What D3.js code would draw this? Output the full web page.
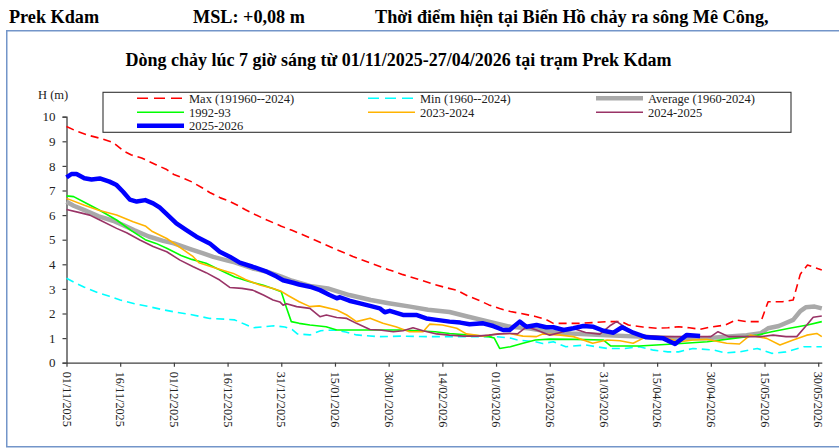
<!DOCTYPE html>
<html>
<head>
<meta charset="utf-8">
<script src="https://cdn.jsdelivr.net/npm/d3@7"></script>
<style>
  html, body { margin: 0; padding: 0; background: #fff; }
  svg { display: block; font-family: "Liberation Serif", "Times New Roman", serif; }
</style>
</head>
<body>
<svg id="chart" width="839" height="448"></svg>
<script>
// ---------- data ----------
const startDate = "01/11/2025";
const endDate = "31/05/2026";
const xTickLabels = ["01/11/2025","16/11/2025","01/12/2025","16/12/2025","31/12/2025","15/01/2026","30/01/2026",
  "14/02/2026","01/03/2026","16/03/2026","31/03/2026","15/04/2026","30/04/2026","15/05/2026","30/05/2026"];
const yTicks = [0,1,2,3,4,5,6,7,8,9,10];

const seriesNames = ["Max (191960--2024)", "Min (1960--2024)", "Average (1960-2024)", "1992-93", "2023-2024", "2024-2025", "2025-2026"];

// day offsets from startDate and water level (m)
const maxDays = [0,3,6,10,13,16,18,21,25,28,30,33,35,38,40,43,45,48,50,53,56,60,63,66,70,75,80,85,90,94,98,103,106,109,112,115,118,121,124,127,131,134,136,140,143,147,151,155,157,161,165,168,171,174,177,180,184,187,190,194,196,200,203,205,207,211];
const maxValues = [9.6,9.4,9.25,9.1,8.95,8.6,8.45,8.32,8.05,7.85,7.65,7.48,7.35,7.1,6.92,6.7,6.6,6.38,6.22,6.0,5.8,5.55,5.38,5.2,4.95,4.62,4.32,4.05,3.78,3.58,3.4,3.17,3.05,2.95,2.72,2.55,2.35,2.2,2.08,2.0,1.88,1.75,1.6,1.6,1.6,1.63,1.67,1.67,1.53,1.45,1.4,1.42,1.46,1.42,1.36,1.45,1.53,1.74,1.67,1.67,2.48,2.48,2.55,3.6,3.97,3.77];

const minDays = [0,3,5,9,12,15,19,23,27,30,35,40,44,47,50,52,55,58,61,63,64.5,68,71,75,78,81,87,94,101,109,115,120,124,126,131,133,136,139.5,145,151,156,160,164,168,171,175,181,184,188,193,197,201,206,211];
const minValues = [3.43,3.2,3.07,2.83,2.7,2.55,2.4,2.28,2.15,2.07,1.95,1.8,1.77,1.74,1.55,1.42,1.46,1.5,1.45,1.35,1.17,1.13,1.3,1.33,1.25,1.13,1.06,1.08,1.06,1.06,1.06,1.06,1.0,0.92,0.85,0.78,0.85,0.65,0.72,0.58,0.58,0.65,0.51,0.44,0.44,0.58,0.51,0.4,0.44,0.58,0.38,0.44,0.65,0.65];

const avgDays = [0,2,5,9,13,16,19,23,27,30,35,38,41,45,47,52,56,60,63,68,73,79,85,90,96,101,107,112,118,124,129,132,135,141,151,160,170,179,184,190,194,196,199,203,205,206.5,209,211];
const avgValues = [6.54,6.38,6.2,5.95,5.77,5.58,5.38,5.13,4.95,4.85,4.6,4.45,4.3,4.15,4.08,3.83,3.7,3.5,3.33,3.12,3.02,2.75,2.55,2.42,2.28,2.15,2.06,1.88,1.67,1.46,1.4,1.33,1.26,1.19,1.12,1.06,0.99,0.99,1.06,1.12,1.2,1.4,1.49,1.74,2.1,2.25,2.28,2.21];

const y1992Days = [0,2,5,9,14,18,22,25,28,32,35,39,42,47,51,55,58,60,61.5,62.8,65,68,72.5,75.5,85,94,103,107,112.6,118,119.5,121,124,127.5,131,135,142,150,152,160,169.5,179,188,193,197,202,207,211];
const y1992Values = [6.78,6.75,6.52,6.22,5.8,5.38,5.0,4.85,4.65,4.36,4.2,4.04,3.83,3.48,3.3,3.15,3.0,2.88,2.21,1.67,1.6,1.53,1.46,1.33,1.33,1.33,1.26,1.19,1.12,1.06,1.0,0.58,0.65,0.79,0.92,0.96,0.95,0.92,0.68,0.68,0.76,0.85,1.02,1.12,1.26,1.4,1.53,1.67];

const y2023Days = [0,5,9,14,18.6,22,24,28,32.6,35.4,37,42,46.6,50,54,57.7,60,62,65,68,70.6,75.5,78.3,81,84.8,88.4,92,95.8,99.6,101.5,105,109,111.7,116.4,120.2,123.8,127.5,131.3,133,138,141.6,147,151,154.6,158.3,162,167.6,171.4,175,178.8,184.4,188,191,195.6,199.3,203,206.8,209.6,211];
const y2023Values = [6.68,6.4,6.2,6.0,5.73,5.56,5.33,5.05,4.6,4.31,4.06,3.83,3.63,3.38,3.16,3.02,2.9,2.72,2.48,2.28,2.31,2.14,1.94,1.67,1.81,1.6,1.46,1.26,1.26,1.57,1.53,1.4,1.17,1.08,1.17,1.19,1.08,1.06,1.17,1.12,1.06,0.79,0.92,0.89,0.79,1.06,0.99,0.85,0.92,0.95,0.79,0.76,1.12,0.99,0.72,0.92,1.12,1.19,1.06];

const y2024Days = [0,3.7,6.5,9.3,14,16.8,20.5,24.2,28,31.7,35.4,39,42.8,45.6,49,52,55,57.7,59.6,60.5,61.5,64.3,68,70.8,72.6,75.5,78.3,81,84.8,87.5,91.3,94,96.8,99.6,103.4,107,111,114.6,118,121,124,126,128.5,131.3,135,138,141.6,145,149,151.8,153.7,156.5,160,166,171,177,180,182,185,190,194,197.4,201,204,206.8,208.6,211];
const y2024Values = [6.23,6.1,6.0,5.8,5.46,5.28,4.99,4.72,4.51,4.17,3.9,3.66,3.36,3.06,3.02,2.95,2.75,2.55,2.47,2.34,2.4,2.28,2.21,1.87,1.94,1.84,1.8,1.6,1.35,1.33,1.26,1.3,1.42,1.3,1.17,1.12,1.08,1.08,1.12,1.17,1.19,1.17,1.46,1.33,1.12,1.23,1.39,1.23,1.16,1.5,1.67,1.4,1.12,1.06,1.06,1.06,1.06,1.26,1.06,1.06,1.06,1.12,1.06,1.06,1.53,1.85,1.9];

const y2025Days = [0,1.4,2.8,5,7,9.3,12,14,15.8,17.7,19.6,22,24.2,26,28,30.7,33.5,36.3,40,42.8,45.6,48.4,52,55.9,58.7,60.5,63.3,65,68,70.8,73.5,75.5,76.4,79,82,84.8,87.5,88.9,90.3,94,97.7,100.5,103.4,107,110,112.6,116.4,119.2,122,123.8,126.6,128.5,131.3,134,136,138.9,141.6,144.4,147.2,150,152.8,155.2,158.3,162,166.7,170,173.3,177];
const y2025Values = [7.53,7.67,7.67,7.5,7.45,7.49,7.36,7.22,6.95,6.63,6.55,6.61,6.48,6.31,6.04,5.66,5.39,5.12,4.85,4.51,4.31,4.07,3.9,3.7,3.5,3.35,3.25,3.18,3.09,2.95,2.75,2.62,2.66,2.52,2.41,2.31,2.21,2.05,2.11,1.94,1.94,1.8,1.74,1.67,1.63,1.56,1.6,1.49,1.33,1.33,1.67,1.46,1.53,1.44,1.44,1.33,1.4,1.49,1.46,1.3,1.22,1.44,1.22,1.03,0.99,0.76,1.13,1.09];

// ---------- chart ----------
const svg = d3.select("#chart");
const parse = d3.timeParse("%d/%m/%Y");
const t0 = parse(startDate);

const x = d3.scaleTime().domain([t0, parse(endDate)]).range([66.5, 821.8]);
const y = d3.scaleLinear().domain([0, 10]).range([362.7, 116.7]);

// outer frame
svg.append("rect").attr("x", 6.75).attr("y", 30.75).attr("width", 900).attr("height", 416)
  .attr("fill", "none").attr("stroke", "#7395c9").attr("stroke-width", 1.5);

// header texts
const header = svg.append("g").attr("font-weight", "bold").attr("font-size", 18.2).attr("fill", "#000");
header.append("text").attr("x", 9).attr("y", 23).text("Prek Kdam");
header.append("text").attr("x", 193).attr("y", 23).text("MSL: +0,08 m");
header.append("text").attr("x", 375).attr("y", 23).text("Thời điểm hiện tại Biển Hồ chảy ra sông Mê Công,");

svg.append("text").attr("x", 398.5).attr("y", 66).attr("text-anchor", "middle")
  .attr("font-weight", "bold").attr("font-size", 18)
  .text("Dòng chảy lúc 7 giờ sáng từ 01/11/2025-27/04/2026 tại trạm Prek Kdam");

// axes
const axisColor = "#404040";
const yAxis = svg.append("g").attr("transform", "translate(66.5,0)")
  .call(d3.axisLeft(y).tickValues(yTicks).tickSize(4).tickPadding(7).tickFormat(d3.format("d")));
yAxis.select(".domain").attr("stroke", axisColor).attr("stroke-width", 1.3);
yAxis.selectAll(".tick line").attr("stroke", axisColor).attr("stroke-width", 1.2);
yAxis.selectAll(".tick text").attr("font-family", "Liberation Serif").attr("font-size", 13).attr("fill", "#222");

const xTickDates = xTickLabels.map(parse);
const xAxis = svg.append("g").attr("transform", "translate(0,362.7)")
  .call(d3.axisBottom(x).tickValues(xTickDates).tickSize(4).tickSizeOuter(0).tickFormat(d3.timeFormat("%d/%m/%Y")));
xAxis.select(".domain").attr("stroke", axisColor).attr("stroke-width", 1.3);
xAxis.selectAll(".tick line").attr("stroke", axisColor).attr("stroke-width", 1.2);
xAxis.selectAll(".tick text")
  .attr("font-family", "Liberation Serif").attr("font-size", 12.2).attr("fill", "#222")
  .attr("text-anchor", "start")
  .attr("transform", "translate(0,9) rotate(90)")
  .attr("x", 0).attr("y", 0).attr("dy", "0.35em");

svg.append("text").attr("x", 38).attr("y", 98.5).attr("font-size", 12.5).attr("fill", "#222").text("H (m)");

// lines
const styles = [
  { color: "#ff0000", width: 1.6, dash: "8,5" },
  { color: "#00ffff", width: 1.6, dash: "8,5" },
  { color: "#a9a9a9", width: 4.5, dash: null },
  { color: "#00ff00", width: 1.6, dash: null },
  { color: "#ffb300", width: 1.6, dash: null },
  { color: "#993366", width: 1.6, dash: null },
  { color: "#0000ff", width: 4.5, dash: null }
];
const allDays = [maxDays, minDays, avgDays, y1992Days, y2023Days, y2024Days, y2025Days];
const allValues = [maxValues, minValues, avgValues, y1992Values, y2023Values, y2024Values, y2025Values];

const line = d3.line().x(p => x(p[0])).y(p => y(p[1]));
const drawOrder = [2, 0, 1, 3, 4, 5, 6];
drawOrder.forEach(i => {
  const pts = allDays[i].map((d, k) => [new Date(t0.getTime() + d * 86400000), allValues[i][k]]);
  svg.append("path").datum(pts)
    .attr("fill", "none").attr("stroke", styles[i].color).attr("stroke-width", styles[i].width)
    .attr("stroke-dasharray", styles[i].dash).attr("stroke-linejoin", "round")
    .attr("d", line);
});

// legend
svg.append("rect").attr("x", 103).attr("y", 92.3).attr("width", 688).attr("height", 40)
  .attr("fill", "#fff").attr("stroke", "#333").attr("stroke-width", 1.1);
const legendPos = [
  { lx: 137, tx: 189, ry: 98.3 },
  { lx: 368, tx: 420, ry: 98.3 },
  { lx: 596, tx: 648, ry: 98.3 },
  { lx: 137, tx: 189, ry: 112.3 },
  { lx: 368, tx: 420, ry: 112.3 },
  { lx: 596, tx: 648, ry: 112.3 },
  { lx: 137, tx: 189, ry: 125.8 }
];
seriesNames.forEach((name, i) => {
  const p = legendPos[i];
  svg.append("line").attr("x1", p.lx).attr("x2", p.lx + 47).attr("y1", p.ry).attr("y2", p.ry)
    .attr("stroke", styles[i].color).attr("stroke-width", styles[i].width)
    .attr("stroke-dasharray", styles[i].dash ? "11,6" : null);
  svg.append("text").attr("x", p.tx).attr("y", p.ry + 4.3).attr("font-size", 12.5).attr("fill", "#222").text(name);
});
</script>
</body>
</html>
